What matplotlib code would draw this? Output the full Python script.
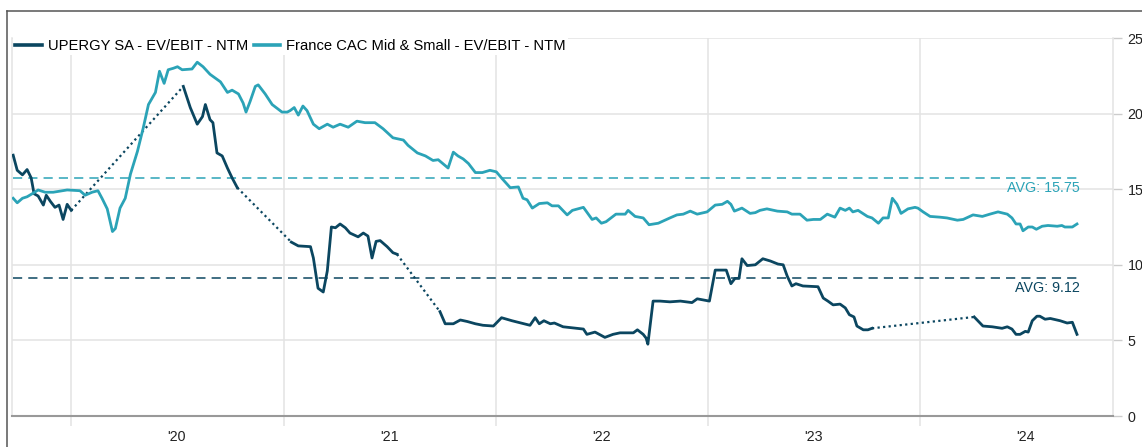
import numpy as np
import pandas as pd
import matplotlib
matplotlib.use("Agg")
import matplotlib.pyplot as plt
from matplotlib.lines import Line2D

plt.rcParams['font.family'] = ['Liberation Sans', 'DejaVu Sans']

# France CAC Mid & Small - EV/EBIT - NTM
idx_dates = [
    "2019-09-23", "2019-09-30", "2019-10-09", "2019-10-17", "2019-10-28", "2019-11-05",
    "2019-11-17", "2019-12-01", "2019-12-25", "2020-01-16", "2020-01-25", "2020-02-06",
    "2020-02-16", "2020-02-23", "2020-03-03", "2020-03-12", "2020-03-17", "2020-03-25",
    "2020-04-03", "2020-04-12", "2020-04-24", "2020-05-04", "2020-05-13", "2020-05-25",
    "2020-06-01", "2020-06-09", "2020-06-16", "2020-06-25", "2020-07-02", "2020-07-10",
    "2020-07-27", "2020-08-05", "2020-08-15", "2020-08-27", "2020-09-14", "2020-09-26",
    "2020-10-04", "2020-10-15", "2020-10-23", "2020-10-28", "2020-11-04", "2020-11-13",
    "2020-11-18", "2020-11-30", "2020-12-12", "2020-12-29", "2021-01-07", "2021-01-12",
    "2021-01-19", "2021-01-26", "2021-02-03", "2021-02-10", "2021-02-21", "2021-03-03",
    "2021-03-17", "2021-03-27", "2021-04-08", "2021-04-22", "2021-05-07", "2021-05-21",
    "2021-06-07", "2021-06-21", "2021-07-08", "2021-07-26", "2021-08-03", "2021-08-19",
    "2021-09-02", "2021-09-15", "2021-09-24", "2021-10-11", "2021-10-20", "2021-10-28",
    "2021-11-06", "2021-11-15", "2021-11-27", "2021-12-09", "2021-12-22", "2022-01-02",
    "2022-01-12", "2022-01-26", "2022-02-09", "2022-02-17", "2022-02-24", "2022-03-05",
    "2022-03-17", "2022-03-31", "2022-04-08", "2022-04-19", "2022-05-04", "2022-05-13",
    "2022-06-01", "2022-06-16", "2022-06-23", "2022-07-02", "2022-07-10", "2022-07-27",
    "2022-08-12", "2022-08-17", "2022-08-29", "2022-09-12", "2022-09-22", "2022-10-08",
    "2022-10-28", "2022-11-09", "2022-11-20", "2022-12-02", "2022-12-14", "2022-12-31",
    "2023-01-14", "2023-01-26", "2023-02-04", "2023-02-10", "2023-02-16", "2023-03-01",
    "2023-03-15", "2023-03-24", "2023-04-01", "2023-04-13", "2023-05-01", "2023-05-18",
    "2023-05-26", "2023-06-09", "2023-06-21", "2023-07-02", "2023-07-14", "2023-07-26",
    "2023-08-08", "2023-08-17", "2023-08-26", "2023-09-02", "2023-09-08", "2023-09-17",
    "2023-10-03", "2023-10-11", "2023-10-22", "2023-10-30", "2023-11-08", "2023-11-15",
    "2023-11-23", "2023-11-30", "2023-12-12", "2023-12-24", "2023-12-29", "2024-01-07",
    "2024-01-19", "2024-02-05", "2024-02-17", "2024-03-06", "2024-03-16", "2024-04-02",
    "2024-04-18", "2024-05-01", "2024-05-15", "2024-05-31", "2024-06-08", "2024-06-15",
    "2024-06-22", "2024-06-27", "2024-07-06", "2024-07-13", "2024-07-20", "2024-07-30",
    "2024-08-09", "2024-08-25", "2024-09-02", "2024-09-07", "2024-09-20", "2024-09-28",
]
idx_values = [
    14.4, 14.1, 14.4, 14.5, 14.75, 14.95,
    14.8, 14.8, 14.95, 14.9, 14.6, 14.8,
    14.9, 14.4, 13.7, 12.2, 12.4, 13.75,
    14.4, 16.0, 17.5, 19.05, 20.6, 21.4,
    22.8, 22.0, 22.9, 23.0, 23.1, 22.9,
    22.95, 23.4, 23.1, 22.6, 22.1, 21.4,
    21.55, 21.3, 20.7, 20.1, 20.8, 21.8,
    21.9, 21.3, 20.6, 20.1, 20.1, 20.2,
    20.4, 19.9, 20.5, 20.2, 19.3, 19.0,
    19.3, 19.1, 19.3, 19.1, 19.5, 19.4,
    19.4, 19.0, 18.4, 18.25, 17.9, 17.4,
    17.2, 16.9, 16.95, 16.4, 17.45, 17.2,
    17.0, 16.7, 16.1, 16.1, 16.25, 16.15,
    15.7, 15.1, 15.15, 14.4, 14.3, 13.75,
    14.05, 14.1, 13.9, 13.9, 13.3, 13.6,
    13.8, 13.0, 13.1, 12.75, 12.85, 13.35,
    13.35, 13.6, 13.2, 13.1, 12.65, 12.75,
    13.1, 13.3, 13.35, 13.55, 13.35, 13.5,
    13.95, 14.0, 14.2, 14.0, 13.55, 13.75,
    13.4, 13.45, 13.6, 13.7, 13.55, 13.5,
    13.35, 13.35, 12.95, 13.0, 13.0, 13.35,
    13.15, 13.75, 13.6, 13.75, 13.5, 13.6,
    13.2, 13.1, 12.75, 13.1, 13.1, 14.4,
    14.0, 13.4, 13.7, 13.8, 13.75, 13.5,
    13.2, 13.15, 13.1, 12.95, 13.0, 13.3,
    13.2, 13.35, 13.5, 13.35, 13.1, 12.7,
    12.7, 12.25, 12.5, 12.5, 12.35, 12.55,
    12.6, 12.55, 12.6, 12.5, 12.5, 12.7,
]

# UPERGY SA - EV/EBIT - NTM (nan = no data, bridged by a dotted line)
up_dates = [
    "2019-09-23", "2019-09-30", "2019-10-09", "2019-10-17", "2019-10-24", "2019-10-29",
    "2019-11-05", "2019-11-14", "2019-11-19", "2019-11-26", "2019-12-04", "2019-12-11",
    "2019-12-18", "2019-12-25", "2020-01-01",
    "2020-04-15",
    "2020-07-12", "2020-07-24", "2020-08-05", "2020-08-14", "2020-08-19", "2020-08-27",
    "2020-09-01", "2020-09-08", "2020-09-17", "2020-09-26", "2020-10-04", "2020-10-13",
    "2020-11-30",
    "2021-01-14", "2021-01-26", "2021-02-16", "2021-02-21", "2021-03-01", "2021-03-10",
    "2021-03-17", "2021-03-24", "2021-03-31", "2021-04-08", "2021-04-17", "2021-04-25",
    "2021-05-09", "2021-05-18", "2021-05-26", "2021-06-02", "2021-06-09", "2021-06-16",
    "2021-06-28", "2021-07-08", "2021-07-15",
    "2021-08-20",
    "2021-09-27", "2021-10-06", "2021-10-20", "2021-11-01", "2021-11-13", "2021-11-27",
    "2021-12-10", "2021-12-28", "2022-01-11", "2022-01-29", "2022-03-01", "2022-03-10",
    "2022-03-17", "2022-03-25", "2022-04-05", "2022-04-12", "2022-04-27", "2022-05-21",
    "2022-06-01", "2022-06-07", "2022-06-21", "2022-07-08", "2022-07-22", "2022-08-03",
    "2022-08-26", "2022-09-02", "2022-09-12", "2022-09-17", "2022-09-20", "2022-09-29",
    "2022-10-11", "2022-10-28", "2022-11-15", "2022-12-05", "2022-12-14", "2023-01-04",
    "2023-01-14", "2023-02-02", "2023-02-10", "2023-02-17", "2023-02-24", "2023-03-01",
    "2023-03-10", "2023-03-24", "2023-04-06", "2023-04-19", "2023-05-02", "2023-05-11",
    "2023-05-18", "2023-05-26", "2023-06-02", "2023-06-14", "2023-07-10", "2023-07-19",
    "2023-07-27", "2023-08-05", "2023-08-17", "2023-08-26", "2023-09-02", "2023-09-10",
    "2023-09-15", "2023-09-26", "2023-10-04", "2023-10-11",
    "2024-01-07",
    "2024-04-04", "2024-04-19", "2024-05-05", "2024-05-22", "2024-05-31", "2024-06-08",
    "2024-06-15", "2024-06-22", "2024-07-01", "2024-07-06", "2024-07-13", "2024-07-21",
    "2024-07-26", "2024-08-04", "2024-08-13", "2024-08-30", "2024-09-11", "2024-09-20",
    "2024-09-28",
]
up_values = [
    17.25, 16.25, 15.95, 16.3, 15.75, 14.7,
    14.55, 13.95, 14.6, 14.2, 13.8, 13.95,
    13.0, 14.0, 13.6,
    np.nan,
    21.8, 20.4, 19.3, 19.8, 20.6, 19.6,
    19.4, 17.4, 17.2, 16.4, 15.75, 15.1,
    np.nan,
    11.5, 11.25, 11.2, 10.45, 8.45, 8.2,
    9.6, 12.5, 12.45, 12.7, 12.45, 12.1,
    11.85, 12.1, 11.9, 10.45, 11.55, 11.6,
    11.2, 10.8, 10.7,
    np.nan,
    6.9, 6.1, 6.1, 6.35, 6.25, 6.1,
    6.0, 5.95, 6.5, 6.3, 6.0, 6.5,
    6.1, 6.3, 6.1, 6.15, 5.9, 5.8,
    5.75, 5.4, 5.55, 5.2, 5.4, 5.5,
    5.5, 5.7, 5.4, 5.15, 4.75, 7.6,
    7.6, 7.55, 7.6, 7.5, 7.75, 7.6,
    9.65, 9.65, 8.75, 9.1, 9.1, 10.4,
    9.95, 10.0, 10.4, 10.25, 10.05, 10.0,
    9.25, 8.6, 8.75, 8.6, 8.55, 7.8,
    7.6, 7.35, 7.4, 7.15, 6.7, 6.55,
    5.95, 5.7, 5.7, 5.8,
    np.nan,
    6.55, 5.95, 5.9, 5.8, 5.9, 5.75,
    5.4, 5.4, 5.6, 5.55, 6.3, 6.6,
    6.6, 6.4, 6.45, 6.3, 6.15, 6.2,
    5.4,
]

idx_avg = 15.75
up_avg = 9.12

year_ticks = ["2020-01-01", "2021-01-01", "2022-01-01", "2023-01-01", "2024-01-01"]
year_labels = ["'20", "'21", "'22", "'23", "'24"]
y_ticks = [0, 5, 10, 15, 20, 25]

DARK = '#0b4660'
TEAL = '#2ba3b7'
GRID = '#e3e3e3'

W, H = 1142, 447
fig = plt.figure(figsize=(W / 100, H / 100), dpi=100)
ax = fig.add_axes([12 / W, 31 / H, 1101 / W, 378 / H])

idx_d = pd.to_datetime(idx_dates)
up_d = pd.to_datetime(up_dates)
up_v = np.array(up_values, dtype=float)

# UPERGY line with dotted bridges over missing data
ax.plot(up_d, up_v, color=DARK, lw=2.0, solid_joinstyle='round', zorder=3)
for i in np.where(np.isnan(up_v))[0]:
    ax.plot([up_d[i - 1], up_d[i + 1]], [up_v[i - 1], up_v[i + 1]],
            color=DARK, lw=1.6, ls=(0, (1, 1.5)), zorder=3)

ax.plot(idx_d, idx_values, color=TEAL, lw=2.0, solid_joinstyle='round', zorder=4)

# averages
start, end = idx_d[0], idx_d[-1]
ax.hlines(idx_avg, start, end, color=TEAL, lw=1.1, ls=(0, (6, 4)), zorder=2)
ax.hlines(up_avg, start, end, color=DARK, lw=1.1, ls=(0, (6, 4)), zorder=2)
ax.annotate(f"AVG: {idx_avg:.2f}", (end, idx_avg), xytext=(3, -3), textcoords='offset pixels',
            ha='right', va='top', color=TEAL, fontsize=10.3)
ax.annotate(f"AVG: {up_avg:.2f}", (end, up_avg), xytext=(3, -3), textcoords='offset pixels',
            ha='right', va='top', color=DARK, fontsize=10.3)

# axes
ax.set_ylim(0, 25)
ax.set_xlim(pd.Timestamp("2019-09-21"), pd.Timestamp("2024-11-29"))
ax.set_yticks(y_ticks)
ax.yaxis.tick_right()
ax.tick_params(axis='y', length=6.5, width=1, color='#cccccc', pad=4,
               labelsize=10.3, labelcolor='#222222')
ax.grid(axis='y', color=GRID, lw=1.1, zorder=0)

ax.set_xticks(pd.to_datetime(year_ticks))
ax.set_xticklabels([])
ax.tick_params(axis='x', which='major', length=7, width=1.1, color=GRID)
mid = [pd.Timestamp(t) + pd.Timedelta(days=182) for t in year_ticks]
ax.set_xticks(mid, minor=True)
ax.set_xticklabels(year_labels, minor=True)
ax.tick_params(axis='x', which='minor', length=0, pad=10, labelsize=10.3, labelcolor='#222222')
ax.grid(axis='x', which='major', color=GRID, lw=1.1, zorder=0)

for s in ['left', 'right', 'top']:
    ax.spines[s].set_color(GRID)
    ax.spines[s].set_linewidth(1.1)
ax.spines['top'].set_visible(False)
ax.spines['bottom'].set_color('#999999')
ax.spines['bottom'].set_linewidth(1.5)

# legend
handles = [Line2D([], [], color=DARK, lw=2.6), Line2D([], [], color=TEAL, lw=2.6)]
leg = ax.legend(handles, ["UPERGY SA - EV/EBIT - NTM", "France CAC Mid & Small - EV/EBIT - NTM"],
                loc='center left', bbox_to_anchor=(13 / W, 1 - 46 / H), bbox_transform=fig.transFigure,
                ncol=2, frameon=True, fancybox=False, edgecolor='none', facecolor='white', framealpha=1,
                fontsize=10.6, handlelength=1.8, handletextpad=0.4, columnspacing=0.4,
                borderpad=0.15, borderaxespad=0)
leg.set_zorder(5)

# outer frame
fig.add_artist(Line2D([6.5 / W, 1], [1 - 10.5 / H, 1 - 10.5 / H], color='#555555', lw=1.1))
fig.add_artist(Line2D([6.5 / W, 6.5 / W], [0, 1 - 10.5 / H], color='#555555', lw=1.1))

fig.savefig("out.png", dpi=100)
